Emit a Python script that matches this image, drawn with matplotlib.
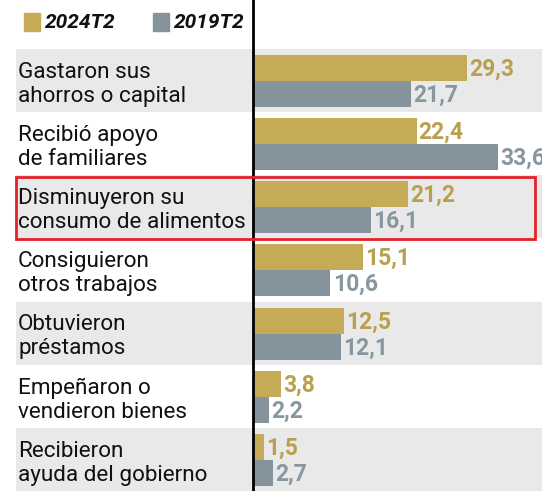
import matplotlib.pyplot as plt
from matplotlib.patches import Rectangle

# datos
categorias = ["Gastaron sus\nahorros o capital",
              "Recibió apoyo\nde familiares",
              "Disminuyeron su\nconsumo de alimentos",
              "Consiguieron\notros trabajos",
              "Obtuvieron\npréstamos",
              "Empeñaron o\nvendieron bienes",
              "Recibieron\nayuda del gobierno"]
v2024 = [29.3, 22.4, 21.2, 15.1, 12.5, 3.8, 1.5]
v2019 = [21.7, 33.6, 16.1, 10.6, 12.1, 2.2, 2.7]
series = ["2024T2", "2019T2"]

ORO = "#c5aa57"
GRIS = "#84939c"
ORO_TXT = "#b9a04e"
GRIS_TXT = "#8797a0"
FONDO = "#e9e9e9"

plt.rcParams['font.family'] = ['Roboto', 'DejaVu Sans']

W, H = 542, 491
fig = plt.figure(figsize=(W / 100, H / 100), dpi=100)
ax = fig.add_axes([0, 0, 1, 1])
ax.axis('off')

px = 7.3          # pixeles por unidad
x0 = 253          # posición del eje
ax.set_xlim(-x0 / px, (W - x0) / px)
fila = 63.15
ax.set_ylim(7, -49 / fila)

n = len(categorias)
ys = list(range(n))
# bandas grises alternadas
for i in ys:
    if i % 2 == 0:
        ax.barh(i, (W - 16) / px + 1, left=-(x0 - 16) / px, height=1,
                align='edge', color=FONDO, zorder=0)

h = 26 / fila
ax.barh([i + 6 / fila for i in ys], v2024, height=h, align='edge', color=ORO, zorder=2)
ax.barh([i + 6 / fila + h for i in ys], v2019, height=h, align='edge', color=GRIS, zorder=2)

def fmt(v):
    return ("%.1f" % v).replace('.', ',')

for i in ys:
    ax.text(v2024[i] + 0.3, i + 6 / fila + h / 2 + 0.02, fmt(v2024[i]), color=ORO_TXT,
            fontsize=16.5, fontweight='bold', va='center', ha='left', zorder=3)
    ax.text(v2019[i] + 0.3, i + 6 / fila + 1.5 * h + 0.02, fmt(v2019[i]), color=GRIS_TXT,
            fontsize=16.5, fontweight='bold', va='center', ha='left', zorder=3)
    ax.text(-(x0 - 18) / px, i + 0.56, categorias[i], fontsize=16.2, color='#111111',
            va='center', ha='left', linespacing=1.18, zorder=3)

# línea del eje
ax.plot([0, 0], [7, -54 / fila], color='black', lw=2, zorder=4, clip_on=False)

# recuadro rojo
ax.add_patch(Rectangle((-(x0 - 16) / px, 2 + 2 / fila), (535 - 16) / px, 62 / fila,
                       fill=False, ec='#e3222b', lw=2, zorder=5))

# leyenda
fig.patches.append(Rectangle((24 / W, 1 - 31 / H), 16 / W, 18 / H, color=ORO,
                             transform=fig.transFigure))
fig.text(45 / W, 1 - 22 / H, series[0], fontsize=15, fontweight='bold', style='italic',
         va='center', ha='left', color='#111111')
fig.patches.append(Rectangle((153 / W, 1 - 31 / H), 16 / W, 18 / H, color=GRIS,
                             transform=fig.transFigure))
fig.text(174 / W, 1 - 22 / H, series[1], fontsize=15, fontweight='bold', style='italic',
         va='center', ha='left', color='#111111')

fig.savefig('out.png', dpi=100)
